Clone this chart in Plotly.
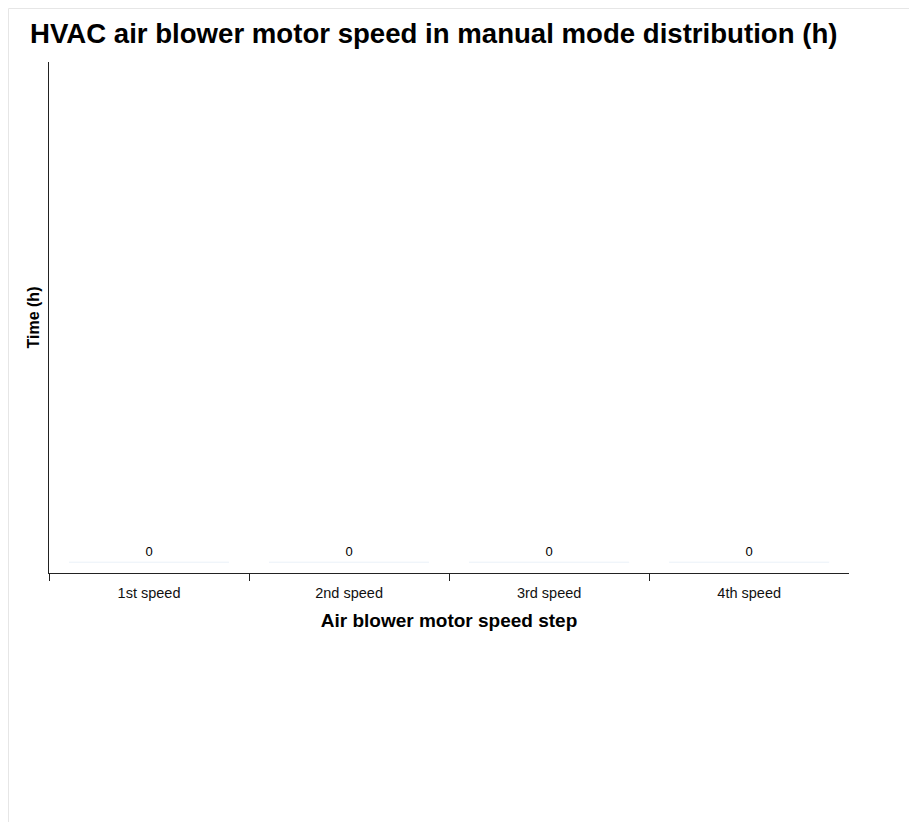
import plotly.graph_objects as go

categories = ["1st speed", "2nd speed", "3rd speed", "4th speed"]
hours = [0, 0, 0, 0]
title_text = "HVAC air blower motor speed in manual mode distribution (h)"
x_title = "Air blower motor speed step"
y_title = "Time (h)"

W, H = 917, 822
ml, mr, mt, mb = 41, 76, 54, 257
FONT = "Liberation Sans, Arial, sans-serif"

fig = go.Figure()
fig.add_trace(go.Bar(
    x=categories, y=hours,
    text=[str(v) for v in hours],
    textposition="outside",
    textfont=dict(family=FONT, size=13, color="#000"),
    marker_color="#4e79a7",
    cliponaxis=False,
    hoverinfo="x+y",
))

# faint page frame (left and top edges)
fig.add_shape(type="line", xref="paper", yref="paper",
              x0=-(ml - 0.5) / (W - ml - mr), x1=-(ml - 0.5) / (W - ml - mr),
              y0=-(mb) / (H - mt - mb), y1=1 + (mt - 0.5) / (H - mt - mb),
              line=dict(color="#e6e6e6", width=1), layer="below")
fig.add_shape(type="line", xref="paper", yref="paper",
              x0=-(ml - 0.5) / (W - ml - mr), x1=1 + mr / (W - ml - mr),
              y0=1 + (mt - 0.5) / (H - mt - mb), y1=1 + (mt - 0.5) / (H - mt - mb),
              line=dict(color="#e6e6e6", width=1), layer="below")

fig.update_layout(
    width=W, height=H,
    margin=dict(l=ml, r=mr, t=mt, b=mb),
    paper_bgcolor="white", plot_bgcolor="white",
    font=dict(family=FONT, color="#000"),
    title=dict(text="<b>" + title_text + "</b>", x=22 / W, xanchor="left",
               y=1 - 25 / H, yanchor="middle",
               font=dict(size=27.6, color="#000")),
    showlegend=False,
    bargap=0.2,
)
fig.update_xaxes(
    range=[-0.5, 3.499],
    showline=True, linecolor="#222", linewidth=1,
    tickson="boundaries", ticks="outside", ticklen=7, tickcolor="#222",
    ticklabelstandoff=7,
    tickfont=dict(size=14.5, color="#111"),
    title=dict(text="<b>" + x_title + "</b>", font=dict(size=19, color="#000"), standoff=13),
    showgrid=False, zeroline=False,
)
fig.update_yaxes(
    showline=True, linecolor="#222", linewidth=1,
    showticklabels=False, ticks="", showgrid=False, zeroline=False,
    range=[-0.0215, 1],
    title=dict(text="<b>" + y_title + "</b>", font=dict(size=16, color="#000"), standoff=4),
)

fig.write_html("out.html")
